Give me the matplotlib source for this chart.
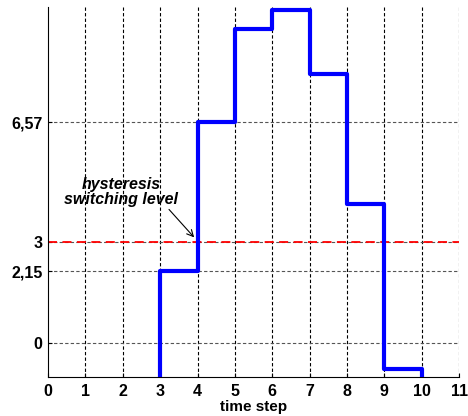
import matplotlib.pyplot as plt

plt.rcParams['font.family'] = ['Liberation Sans', 'DejaVu Sans']
plt.rcParams['font.weight'] = 'bold'

# Step values, each held from its time step until the next one.
time_steps = [2, 3, 4, 5, 6, 7, 8, 9, 10]
values = [-2, 2.15, 6.57, 9.36, 9.9, 8.0, 4.13, -0.75, -2]

hysteresis_level = 3
y_ticks = [0, 2.15, 3, 6.57]
y_tick_labels = ['0', '2,15', '3', '6,57']
x_ticks = list(range(0, 12))

fig = plt.figure(figsize=(4.68, 4.16), dpi=100)
ax = fig.add_axes([0.1026, 0.0938, 0.8785, 0.8894])

# Grid: black dashed verticals, grey dashed horizontals.
for x in x_ticks[1:]:
    ax.axvline(x, color='black', linestyle=(0, (3, 2)), linewidth=0.8, zorder=1)
for y in y_ticks:
    ax.axhline(y, color='#555555', linestyle=(0, (3, 2)), linewidth=0.8, zorder=1)

ax.axhline(hysteresis_level, color='red', linestyle=(0, (5, 3)), linewidth=1.3, zorder=2)

ax.step(time_steps, values, where='post', color='blue', linewidth=3, zorder=3)

ax.annotate('hysteresis\nswitching level', xy=(3.91, 3.15), xytext=(1.95, 4.51),
            ha='center', va='center', fontsize=11.5, fontstyle='italic', fontweight='bold',
            linespacing=1.0,
            arrowprops=dict(arrowstyle='->', color='black', linewidth=0.8,
                            shrinkA=0, shrinkB=0, relpos=(0.9, 0.0)))

ax.set_xlim(0, 11)
ax.set_ylim(-1, 10)
ax.set_xticks(x_ticks)
ax.set_yticks(y_ticks)
ax.set_yticklabels(y_tick_labels)
ax.tick_params(direction='in', length=3, labelsize=11.5)
ax.tick_params(axis='y', pad=4)
ax.tick_params(axis='x', pad=5)
ax.set_xlabel('time step', fontsize=11, fontweight='bold', labelpad=1)

ax.spines['top'].set_visible(False)
ax.spines['right'].set_visible(False)

fig.savefig('out.png', dpi=100)
